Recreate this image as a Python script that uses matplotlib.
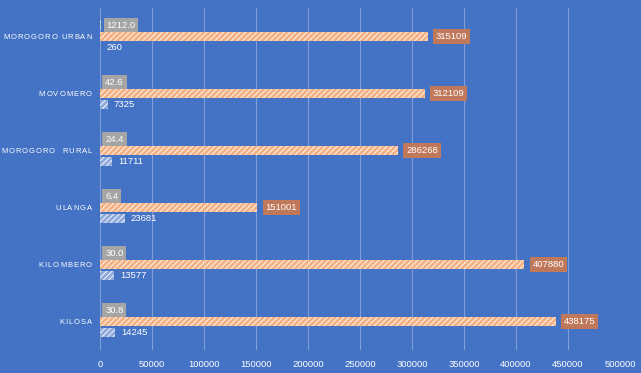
import numpy as np
import matplotlib.pyplot as plt
from matplotlib import font_manager, ft2font

plt.rcParams['font.family'] = ['Liberation Sans', 'DejaVu Sans']

# ===== data =====
districts = ['KILOSA', 'KILOMBERO', 'ULANGA', 'MOROGORO  RURAL', 'MOVOMERO', 'MOROGORO URBAN']
area = [14245, 13577, 23681, 11711, 7325, 260]
population = [438175, 407880, 151001, 286268, 312109, 315109]
density = [30.8, 30.0, 6.4, 24.4, 42.6, 1212.0]

bg = '#4472C4'
W, H = 641, 373
fig = plt.figure(figsize=(W/100, H/100), dpi=100, facecolor=bg)
ax = fig.add_axes([100/W, 23/H, 520/W, 342/H], facecolor=bg)

plt.rcParams['hatch.color'] = 'white'
plt.rcParams['hatch.linewidth'] = 0.6

y = np.arange(len(districts))
h = 0.16
off = 0.2

ax.barh(y - off, area, height=h, color='#8FAADC', hatch='//////', edgecolor='white', linewidth=0)
ax.barh(y, population, height=h, color='#F4B183', hatch='//////', edgecolor='white', linewidth=0)
ax.barh(y + off, density, height=h, color='#BFBFBF', hatch='//////', edgecolor='white', linewidth=0)

# data labels
for i in range(len(districts)):
    ax.text(area[i] + 6000, y[i] - off, str(area[i]), color='white', fontsize=6.8,
            va='center', ha='left')
    ax.text(population[i] + 8000, y[i], str(population[i]), color='white', fontsize=6.8,
            va='center', ha='left',
            bbox=dict(boxstyle='square,pad=0.3', fc='#C0785A', ec='none'))
    ax.text(density[i] + 5000, y[i] + off, '%.1f' % density[i], color='white', fontsize=6.8,
            va='center', ha='left',
            bbox=dict(boxstyle='square,pad=0.3', fc='#A5A5A5', ec='none'))

ax.set_xlim(0, 500000)
ax.set_ylim(-0.5, len(districts) - 0.5)
ax.set_xticks(np.arange(0, 500001, 50000))
ax.set_xticklabels([str(v) for v in range(0, 500001, 50000)], color='white', fontsize=6.8)
ax.set_yticks(y)
ax.set_yticklabels([])
ax.tick_params(length=0, pad=7)
ax.grid(axis='x', color='#7F9FD9', linewidth=0.8)
ax.set_axisbelow(True)
for s in ax.spines.values():
    s.set_visible(False)

# category labels with letter spacing, drawn char by char using glyph advances
fs = 5.5
gap = 1.0
right_px = 92
font = ft2font.FT2Font(font_manager.findfont('Liberation Sans'))
font.set_size(fs, 100)
for i, name in enumerate(districts):
    widths = [font.load_char(ord(ch)).linearHoriAdvance / 65536 for ch in name]
    total = sum(widths) + gap * (len(name) - 1)
    ypx = ax.transData.transform((0, y[i]))[1] - 2.7
    x = right_px - total
    for ch, w in zip(name, widths):
        if ch != ' ':
            fig.text(x / W, ypx / H, ch, fontsize=fs, color='white', ha='left', va='baseline')
        x += w + gap

fig.savefig('out.png', dpi=100, facecolor=bg)
